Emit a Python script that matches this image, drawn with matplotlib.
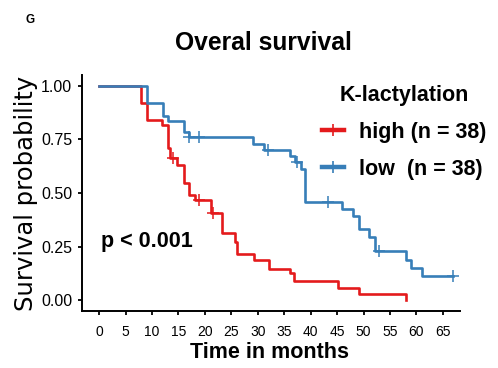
import matplotlib
matplotlib.use("Agg")
import matplotlib.pyplot as plt
from matplotlib.lines import Line2D

plt.rcParams['font.family'] = ['Liberation Sans', 'DejaVu Sans']

# Kaplan-Meier step points (months, survival)
high_t = [0, 7.9, 9.0, 11.9, 13.1, 13.4, 14.8, 16.1, 17.0, 18.2, 21.2, 23.2,
          25.7, 26.0, 29.2, 32.2, 36.0, 36.9, 45.1, 49.1, 58.1]
high_s = [1.0, 0.921, 0.842, 0.816, 0.71, 0.662, 0.63, 0.545, 0.49, 0.467, 0.408,
          0.312, 0.272, 0.215, 0.187, 0.148, 0.125, 0.09, 0.059, 0.028, 0.0]
high_cens_t = [13.9, 18.9, 21.5]
high_cens_s = [0.662, 0.467, 0.408]

low_t = [0, 9.0, 12.0, 13.1, 16.1, 16.9, 29.0, 31.1, 36.0, 37.1, 38.2, 39.0,
         46.0, 48.1, 49.1, 51.1, 52.1, 58.1, 59.0, 61.1, 67.0]
low_s = [1.0, 0.921, 0.861, 0.838, 0.786, 0.762, 0.729, 0.70, 0.673, 0.646, 0.61,
         0.46, 0.424, 0.393, 0.33, 0.293, 0.23, 0.187, 0.151, 0.115, 0.115]
low_cens_t = [17.0, 18.9, 32.0, 37.4, 43.2, 52.9, 67.0]
low_cens_s = [0.762, 0.762, 0.70, 0.646, 0.46, 0.23, 0.115]

x_ticks = list(range(0, 70, 5))
y_ticks = [0.0, 0.25, 0.5, 0.75, 1.0]
y_labels = ['0.00', '0.25', '0.50', '0.75', '1.00']
groups = ['high (n = 38)', 'low  (n = 38)']

red = '#E41A1C'
blue = '#377EB8'

fig = plt.figure(figsize=(4.98, 3.68), dpi=100)
ax = fig.add_axes([0.1647, 0.155, 0.759, 0.641])

ax.step(high_t, high_s, where='post', color=red, lw=1.9)
ax.step(low_t, low_s, where='post', color=blue, lw=1.9)
ax.plot(high_cens_t, high_cens_s, ls='none', marker='+', ms=8, mew=1.1, color=red)
ax.plot(low_cens_t, low_cens_s, ls='none', marker='+', ms=8, mew=1.1, color=blue)

ax.set_xlim(-3.25, 68.25)
ax.set_ylim(-0.05, 1.05)
ax.set_xticks(x_ticks)
ax.set_yticks(y_ticks)
ax.set_yticklabels(y_labels)
ax.tick_params(width=1.3, length=3, color='black', labelcolor='black')
ax.tick_params(axis='x', labelsize=10, pad=7)
ax.tick_params(axis='y', labelsize=11.5, pad=4)

for side in ['top', 'right']:
    ax.spines[side].set_visible(False)
for side in ['left', 'bottom']:
    ax.spines[side].set_linewidth(1.4)

ax.set_xlabel('Time in months', fontsize=15.5, fontweight='bold')
ax.xaxis.set_label_coords(0.497, -0.133)
ax.set_ylabel('Survival probability', fontsize=17.5, family='DejaVu Sans')
ax.yaxis.set_label_coords(-0.117, 0.5)

ax.text(0.3, 0.272, 'p < 0.001', fontsize=15.5, fontweight='bold', va='center')

handles = [Line2D([0], [0], color=red, lw=3.2, marker='+', ms=9, mew=1.2),
           Line2D([0], [0], color=blue, lw=3.2, marker='+', ms=9, mew=1.2)]
leg = fig.legend(handles, groups, title='K-lactylation',
                 loc='upper left', bbox_to_anchor=(0.6466, 0.77), frameon=False,
                 prop={'size': 15.5, 'weight': 'bold'}, handlelength=1.0,
                 handletextpad=0.72, labelspacing=0.75, borderpad=0, borderaxespad=0)
leg.get_title().set_fontsize(15.5)
leg.get_title().set_fontweight('bold')

fig.text(0.528, 0.884, 'Overal survival', fontsize=17.7, fontweight='bold', ha='center', va='center')
fig.text(0.06, 0.946, 'G', fontsize=8.5, fontweight='bold', ha='center', va='center')

fig.savefig('out.png', dpi=100)
